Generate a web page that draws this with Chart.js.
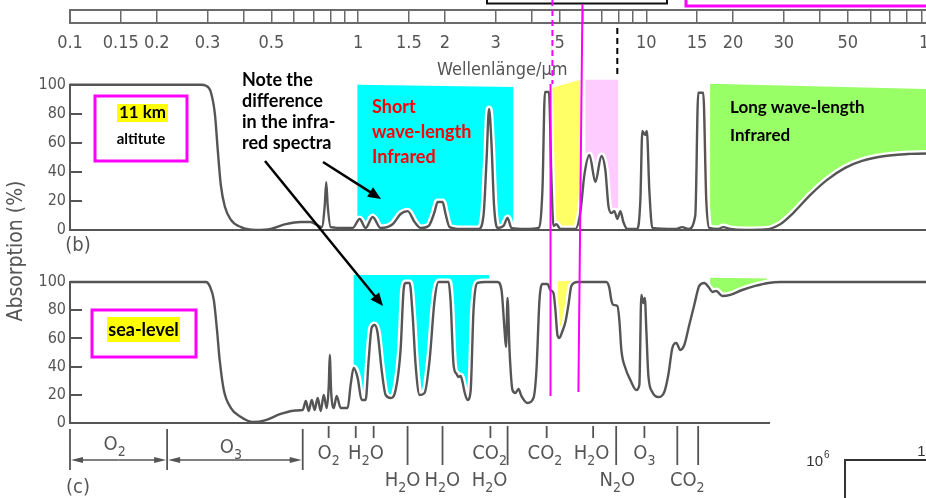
<!DOCTYPE html>
<html>
<head>
<meta charset="utf-8">
<script src="https://cdn.jsdelivr.net/npm/chart.js@4.4.1/dist/chart.umd.min.js"></script>
<style>
  html, body { margin: 0; padding: 0; background: #fff; overflow: hidden; }
  #wrap { position: relative; width: 926px; height: 498px; overflow: hidden; background: #fff; }
  #wrap canvas { position: absolute; left: 0; top: 0; }
</style>
</head>
<body>
<div id="wrap">
  <canvas id="ruler" width="960" height="498"></canvas>
  <canvas id="panelB" width="960" height="498"></canvas>
  <canvas id="panelC" width="960" height="498"></canvas>
</div>
<script>
// wavelength axis (µm)
const rulerTicks = [0.1, 0.15, 0.2, 0.3, 0.4, 0.5, 0.6, 0.7, 0.8, 0.9,
  1, 1.5, 2, 3, 4, 5, 6, 7, 8, 9, 10, 15, 20, 30, 40, 50, 60, 70, 80, 90, 100];
const labelledTicks = [0.1, 0.15, 0.2, 0.3, 0.5, 1, 1.5, 2, 3, 5, 10, 15, 20, 30, 50, 100];
const absTicks = [0, 20, 40, 60, 80, 100];

// (b) 11 km altitude: wavelength (µm) / absorption (%)
const waveB = [0.1, 0.191, 0.284, 0.296, 0.308, 0.318, 0.325, 0.333, 0.344, 0.361, 0.391, 0.440, 0.496, 0.559,
  0.630, 0.682, 0.716, 0.745, 0.763, 0.772, 0.781, 0.800, 0.902, 0.953, 1.008, 1.057, 1.118, 1.191, 1.311, 1.397,
  1.478, 1.562, 1.639, 1.747, 1.832, 1.877, 1.953, 2.000, 2.065, 2.254, 2.602, 2.707, 2.773, 2.829, 2.886, 2.944,
  3.027, 3.175, 3.279, 3.383, 3.783, 4.196, 4.331, 4.419, 4.562, 4.654, 4.729, 4.844, 5.0, 5.634, 5.863, 6.053,
  6.300, 6.608, 6.931, 7.157, 7.328, 7.505, 7.687, 7.873, 8.066, 8.260, 8.530, 9.235, 9.459, 9.610, 9.802, 9.961,
  10.16, 10.41, 12.50, 13.22, 13.87, 14.66, 15.01, 15.62, 16.00, 16.39, 17.61, 18.32, 19.38, 21.83, 25.60, 28.86,
  32.01, 36.64, 41.96, 48.43, 55.45, 66.6, 81.3, 100];
const absB = [100, 100, 100, 99.3, 94.5, 79, 55, 31, 16, 7, 2, 0, 0.7, 4,
  5.5, 5.5, 3.5, 2, 17, 33, 17, 2, 1.4, 1.4, 7.6, 1.4, 9, 1.4, 4, 11,
  13, 5.5, 1.4, 2.8, 12.4, 19.3, 19.3, 11, 2, 0.7, 0.7, 10, 48, 83.4, 58.6, 17,
  1.4, 2.8, 8.3, 1.4, 0.7, 1.4, 27.6, 95, 95, 34.5, 2.8, 4, 0.7, 0.7, 12.4, 38,
  51.7, 33, 51, 41, 17, 11.7, 13, 7.6, 13, 5.5, 0.7, 0.7, 20.7, 68.3, 65.5, 68.3,
  27.6, 1.4, 0.7, 2, 0.7, 10, 94.5, 94.5, 20.7, 1.4, 0.7, 2, 0.7, 0, 0.3, 4,
  11.7, 24, 34.5, 42.8, 47.6, 51, 52.4, 52.8];

// (c) sea level
const waveC = [0.1, 0.191, 0.296, 0.305, 0.315, 0.323, 0.330, 0.341, 0.361, 0.391, 0.430, 0.477, 0.537, 0.605,
  0.640, 0.656, 0.671, 0.688, 0.704, 0.721, 0.739, 0.757, 0.775, 0.788, 0.794, 0.803, 0.820, 0.839, 0.866, 0.916,
  0.938, 0.961, 0.992, 1.024, 1.057, 1.083, 1.109, 1.136, 1.163, 1.201, 1.240, 1.290, 1.343, 1.397, 1.431, 1.454,
  1.501, 1.538, 1.575, 1.626, 1.692, 1.761, 1.832, 1.891, 2.048, 2.081, 2.132, 2.183, 2.218, 2.254, 2.290, 2.327,
  2.384, 2.441, 2.500, 2.581, 2.751, 3.027, 3.125, 3.201, 3.239, 3.279, 3.331, 3.411, 3.493, 3.578, 3.664, 3.844,
  4.032, 4.130, 4.230, 4.331, 4.508, 4.616, 4.729, 4.804, 4.882, 4.961, 5.081, 5.203, 5.329, 5.458, 5.725, 7.212,
  7.387, 7.505, 7.626, 7.873, 8.000, 8.128, 8.393, 8.735, 9.160, 9.383, 9.533, 9.687, 9.802, 9.920, 10.08, 10.41,
  10.91, 11.45, 11.82, 12.21, 12.60, 13.01, 13.43, 13.97, 14.54, 15.13, 15.75, 16.39, 16.79, 17.33, 18.18, 19.38,
  21.32, 23.64, 26.22, 28.86, 100];
const absC = [100, 100, 100, 97, 87, 66, 44.7, 23.4, 10.6, 4.3, 0.7, 2.1, 6.4, 8.9,
  9.2, 15.6, 8.5, 16.3, 9.2, 17.7, 8.5, 19.9, 10.6, 27, 48.2, 22, 10.6, 19.1, 10.6, 10.6,
  27, 39, 32, 16.3, 16.3, 44.7, 67.4, 69.5, 63.8, 37.6, 19.9, 17.7, 23.4, 51.8, 94.3, 99.3,
  99.3, 76.6, 41.1, 19.9, 21.3, 44.7, 87, 100, 100, 87, 41.1, 34.8, 32.6, 33.3, 29, 22,
  16.3, 22, 80, 99.3, 100, 100, 94.3, 66, 53.9, 88.7, 51.8, 23.4, 21.3, 24.1, 19.1, 14.2,
  17.7, 37.6, 87, 98.6, 98.6, 94.3, 92.2, 80, 62.4, 60.3, 65.2, 71.6, 83.7, 97.2, 100, 100,
  95.7, 87, 83.7, 83, 73, 51.8, 39, 30.5, 23.4, 27, 90.8, 85.1, 88.7, 66, 34, 22,
  18.4, 22, 34, 53.2, 56.7, 51.8, 55.3, 69.5, 83.7, 97.2, 99.3, 95.7, 92.9, 93.6, 90, 90.8,
  94.3, 97.2, 99.3, 100, 100];

// highlighted bands: [from µm, to µm, top % at start, top % at end, lowest %]
const cyanB = [0.99, 3.43, 100, 98.5, 0];
const yellowB = [4.69, 5.86, 98, 103.5, 0];
const pinkB = [6.10, 7.92, 103.5, 103.5, 15];
const greenB = [16.5, 100, 100.7, 97, 0];
const cyanC = [0.961, 2.83, 105, 105, 0];
const yellowC = [4.9, 5.65, 100.5, 101, 0];
const greenC = [16.5, 26.0, 103, 102.5, 0];

// marker lines (µm)
const magentaWaves = [4.69, 4.62, 5.96, 5.77];
const dashedWave = 7.87;

// absorber bands under (c)
const regionEdges = [0.1, 0.217, 0.640];
const regionNames = ['O2', 'O3'];
const shortTicks = [0.787, 0.977, 1.127, 2.86, 4.48, 6.49, 9.77];
const longTicks = [1.477, 1.952, 3.28, 7.8, 12.7, 15.0];
const upperNames = ['O2', 'H2O', 'CO2', 'CO2', 'H2O', 'O3'];
const upperWaves = [0.787, 1.06, 2.84, 4.42, 6.41, 9.77];
const lowerNames = ['H2O', 'H2O', 'H2O', 'N2O', 'CO2'];
const lowerWaves = [1.42, 1.95, 2.84, 7.87, 13.75];

const GREY = '#555';
const RULE = '#6a6a6a';
const MAGENTA = '#ff00ff';
const FIG = "'DejaVu Sans Condensed', 'Liberation Sans Narrow', sans-serif";
const TICKFONT = "'DejaVu Sans Condensed', 'Liberation Sans Narrow', sans-serif";
const NOTE = "Lato, 'Open Sans', sans-serif";

function valueAt(wave, abs, w) {
    for (let i = 0; i < wave.length - 1; i++) {
        if (w >= wave[i] && w <= wave[i + 1]) {
            const t = Math.log(w / wave[i]) / Math.log(wave[i + 1] / wave[i]);
            return abs[i] + t * (abs[i + 1] - abs[i]);
        }
    }
    return abs[abs.length - 1];
}

// polygon: top edge, then back along the curve
function bandShape(wave, abs, band) {
    const [lo, hi, topLo, topHi, floor] = band;
    const pts = [{x: lo, y: topLo}, {x: hi, y: topHi}];
    pts.push({x: hi, y: Math.max(valueAt(wave, abs, hi), floor)});
    for (let i = wave.length - 1; i >= 0; i--) {
        if (wave[i] > lo && wave[i] < hi) pts.push({x: wave[i], y: Math.max(abs[i], floor)});
    }
    pts.push({x: lo, y: Math.max(valueAt(wave, abs, lo), floor)});
    return pts;
}

function fillSet(wave, abs, band, color) {
    return {
        data: bandShape(wave, abs, band), fill: 'shape', backgroundColor: color,
        borderColor: 'transparent', borderWidth: 0, pointRadius: 0, tension: 0, order: 3
    };
}

function curveSets(wave, abs) {
    const pts = wave.map((w, i) => ({x: w, y: abs[i]}));
    return [
        {data: pts, borderColor: '#fff', borderWidth: 7, pointRadius: 0, fill: false,
         cubicInterpolationMode: 'monotone', order: 2},
        {data: pts, borderColor: GREY, borderWidth: 2.4, pointRadius: 0, fill: false,
         cubicInterpolationMode: 'monotone', order: 1}
    ];
}

const axisLine = {
    id: 'axisLine',
    afterDatasetsDraw(chart) {
        const {ctx, chartArea, scales: {y}} = chart;
        ctx.save();
        ctx.strokeStyle = GREY;
        ctx.lineWidth = 2;
        ctx.beginPath();
        ctx.moveTo(chartArea.left, y.getPixelForValue(0) + 1);
        ctx.lineTo(chartArea.left, y.getPixelForValue(100) - 1);
        ctx.stroke();
        ctx.restore();
    }
};

const rulerBox = {
    id: 'rulerBox',
    afterDraw(chart) {
        const {ctx, chartArea} = chart;
        ctx.save();
        ctx.strokeStyle = RULE;
        ctx.lineWidth = 2;
        ctx.strokeRect(chartArea.left, chartArea.top, chartArea.right - chartArea.left, chartArea.bottom - chartArea.top);
        ctx.restore();
    }
};

function chem(ctx, text, cx, cy, size) {
    const big = size + 'px ' + FIG;
    const small = Math.round(size * 0.72) + 'px ' + FIG;
    const parts = text.split('').map(ch => ({ch: ch, sub: /\d/.test(ch)}));
    let w = 0;
    parts.forEach(p => {
        ctx.font = p.sub ? small : big;
        p.w = ctx.measureText(p.ch).width;
        w += p.w;
    });
    let x = cx - w / 2;
    ctx.textAlign = 'left';
    ctx.textBaseline = 'middle';
    parts.forEach(p => {
        ctx.font = p.sub ? small : big;
        ctx.fillText(p.ch, x, cy + (p.sub ? size * 0.38 : 0));
        x += p.w;
    });
}

function arrow(ctx, x1, y1, x2, y2, head, width) {
    const a = Math.atan2(y2 - y1, x2 - x1);
    const c = Math.cos(a), s = Math.sin(a);
    ctx.beginPath();
    ctx.moveTo(x1, y1);
    ctx.lineTo(x2 - head * 0.8 * c, y2 - head * 0.8 * s);
    ctx.stroke();
    ctx.beginPath();
    ctx.moveTo(x2, y2);
    ctx.lineTo(x2 - head * c + width / 2 * s, y2 - head * s - width / 2 * c);
    ctx.lineTo(x2 - head * c - width / 2 * s, y2 - head * s + width / 2 * c);
    ctx.closePath();
    ctx.fill();
}

function line(ctx, x1, y1, x2, y2) {
    ctx.beginPath();
    ctx.moveTo(x1, y1);
    ctx.lineTo(x2, y2);
    ctx.stroke();
}

const overlay = {
    id: 'overlay',
    afterDraw(chart) {
        const ctx = chart.ctx;
        const px = v => chart.scales.x.getPixelForValue(v);
        ctx.save();

        // boxes cut off at the top edge
        ctx.strokeStyle = '#111';
        ctx.lineWidth = 2;
        ctx.strokeRect(487, -10, 180, 13.5);
        ctx.strokeStyle = MAGENTA;
        ctx.lineWidth = 3;
        ctx.strokeRect(686, -10, 300, 16);

        // marker lines
        ctx.lineWidth = 2;
        ctx.setLineDash([6, 4]);
        line(ctx, px(magentaWaves[0]), 0, px(magentaWaves[0]), 84);
        ctx.setLineDash([]);
        line(ctx, px(magentaWaves[1]), 84, px(magentaWaves[1]), 396);
        line(ctx, px(magentaWaves[2]), 4, px(magentaWaves[3]), 392);
        ctx.strokeStyle = '#000';
        ctx.setLineDash([6, 4]);
        line(ctx, px(dashedWave), 28, px(dashedWave), 77);
        ctx.setLineDash([]);

        // absorber bands below (c)
        ctx.strokeStyle = GREY;
        ctx.fillStyle = GREY;
        ctx.lineWidth = 1.8;
        regionEdges.forEach(w => line(ctx, px(w), 429, px(w), 470));
        shortTicks.forEach(w => line(ctx, px(w), 426, px(w), 438));
        longTicks.forEach(w => line(ctx, px(w), 426, px(w), 465));
        ctx.lineWidth = 1.5;
        for (let i = 0; i < regionNames.length; i++) {
            const a = px(regionEdges[i]), b = px(regionEdges[i + 1]);
            arrow(ctx, (a + b) / 2, 460, a + 1, 460, 12, 6);
            arrow(ctx, (a + b) / 2, 460, b - 1, 460, 12, 6);
            chem(ctx, regionNames[i], (a + b) / 2 - 4, 445 + i * 3, 20);
        }
        upperNames.forEach((n, i) => chem(ctx, n, px(upperWaves[i]), 454, 20));
        lowerNames.forEach((n, i) => chem(ctx, n, px(lowerWaves[i]), 481, 20));

        // panel letters and axis title
        ctx.font = '20px ' + FIG;
        ctx.textAlign = 'center';
        ctx.textBaseline = 'middle';
        ctx.fillText('(b)', 78, 246);
        ctx.fillText('(c)', 78, 488);
        ctx.save();
        ctx.translate(17, 251);
        ctx.rotate(-Math.PI / 2);
        ctx.font = '21px ' + FIG;
        ctx.fillText('Absorption (%)', 0, 0);
        ctx.restore();

        // part of the next figure
        ctx.fillStyle = '#fff';
        ctx.fillRect(770, 408, 200, 100);
        ctx.fillStyle = '#333';
        ctx.strokeStyle = '#333';
        ctx.lineWidth = 2;
        ctx.beginPath();
        ctx.moveTo(845, 500);
        ctx.lineTo(845, 460);
        ctx.lineTo(960, 460);
        ctx.stroke();
        ctx.font = "15px 'Liberation Sans', Arial, sans-serif";
        ctx.textAlign = 'right';
        ctx.fillText('10', 823, 462);
        ctx.fillText('10', 934, 452);
        ctx.font = "10px 'Liberation Sans', Arial, sans-serif";
        ctx.textAlign = 'left';
        ctx.fillText('6', 824, 455);

        // notes
        ctx.textAlign = 'left';
        ctx.fillStyle = '#000';
        ctx.font = 'bold 18px ' + NOTE;
        ['Note the', 'difference', 'in the infra-', 'red spectra'].forEach((t, i) => ctx.fillText(t, 242, 80 + i * 21));
        ctx.fillStyle = '#f00';
        ['Short', 'wave-length', 'Infrared'].forEach((t, i) => ctx.fillText(t, 372, 107 + i * 25));
        ctx.fillStyle = '#000';
        ctx.font = 'bold 17px ' + NOTE;
        ['Long wave-length', 'Infrared'].forEach((t, i) => ctx.fillText(t, 730, 108 + i * 27.5));

        // altitude boxes
        ctx.strokeStyle = MAGENTA;
        ctx.lineWidth = 3;
        ctx.strokeRect(95, 96, 92, 65);
        ctx.strokeRect(92, 310, 104, 47);
        ctx.fillStyle = '#ffff00';
        ctx.fillRect(117, 104, 51, 18);
        ctx.fillRect(107, 317, 73, 25);
        ctx.fillStyle = '#000';
        ctx.textAlign = 'center';
        ctx.font = 'bold 17px ' + NOTE;
        ctx.fillText('11 km', 142.5, 113);
        ctx.font = 'bold 15px ' + NOTE;
        ctx.fillText('altitute', 141, 139);
        ctx.font = 'bold 18px ' + NOTE;
        ctx.fillText('sea-level', 143.5, 330);

        // arrows
        ctx.strokeStyle = '#000';
        ctx.lineWidth = 2.5;
        arrow(ctx, 323, 162, 381, 199, 13, 11);
        arrow(ctx, 265, 161, 383, 306, 13, 11);

        ctx.restore();
    }
};

function panelOptions(top, bottom, xHeight, yMax) {
    return {
        responsive: false,
        animation: false,
        events: [],
        layout: {padding: {left: 0, right: 24, top: top, bottom: bottom}},
        plugins: {legend: {display: false}, tooltip: {enabled: false}, filler: {propagate: false}},
        scales: {
            x: {
                type: 'logarithmic', min: 0.1, max: 100,
                ticks: {display: false},
                grid: {display: false},
                border: {color: GREY, width: 2, z: 1},
                afterFit: s => { s.height = xHeight; }
            },
            y: {
                min: 0, max: yMax,
                afterBuildTicks: s => { s.ticks = absTicks.map(v => ({value: v})); },
                ticks: {color: GREY, padding: 16, font: {family: TICKFONT, size: 16}},
                grid: {drawOnChartArea: false, tickLength: -12, color: GREY, lineWidth: 2},
                border: {display: false},
                afterFit: s => { s.width = 70; }
            }
        }
    };
}

new Chart(document.getElementById('ruler'), {
    type: 'line',
    data: {datasets: [{data: []}]},
    options: {
        responsive: false,
        animation: false,
        events: [],
        layout: {padding: {left: 70, right: 24, top: 10, bottom: 417}},
        plugins: {legend: {display: false}, tooltip: {enabled: false}},
        scales: {
            x: {
                type: 'logarithmic', min: 0.1, max: 100,
                afterBuildTicks: s => { s.ticks = rulerTicks.map(v => ({value: v})); },
                ticks: {
                    autoSkip: false, maxRotation: 0, padding: 10, color: GREY,
                    font: {family: FIG, size: 18},
                    callback: v => labelledTicks.includes(v) ? String(v) : ''
                },
                grid: {color: RULE, lineWidth: 1.5, drawTicks: false},
                border: {color: RULE, width: 2},
                title: {display: true, text: 'Wellenlänge/µm', color: GREY, padding: 0,
                        font: {family: FIG, size: 18}},
                afterFit: s => { s.height = 58; }
            },
            y: {display: false, min: 0, max: 1}
        }
    },
    plugins: [rulerBox]
});

new Chart(document.getElementById('panelB'), {
    type: 'line',
    data: {
        datasets: [
            fillSet(waveB, absB, cyanB, '#00ffff'),
            fillSet(waveB, absB, yellowB, '#ffff66'),
            fillSet(waveB, absB, pinkB, '#ffccff'),
            fillSet(waveB, absB, greenB, '#99ff66')
        ].concat(curveSets(waveB, absB))
    },
    options: panelOptions(79, 253, 15, 104),
    plugins: [axisLine]
});

new Chart(document.getElementById('panelC'), {
    type: 'line',
    data: {
        datasets: [
            fillSet(waveC, absC, cyanC, '#00ffff'),
            fillSet(waveC, absC, yellowC, '#ffff66'),
            fillSet(waveC, absC, greenC, '#99ff66')
        ].concat(curveSets(waveC, absC))
    },
    options: panelOptions(273.5, 0, 75, 106),
    plugins: [axisLine, overlay]
});
</script>
</body>
</html>
